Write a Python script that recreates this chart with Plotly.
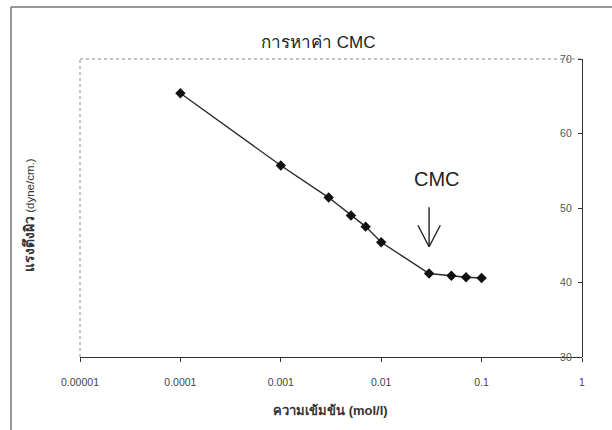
import numpy as np
import plotly.graph_objects as go

conc = [0.0001, 0.001, 0.003, 0.005, 0.007, 0.01, 0.03, 0.05, 0.07, 0.1]
tension = [65.4, 55.7, 51.4, 49.0, 47.5, 45.4, 41.2, 40.9, 40.7, 40.6]
xticks = [0.00001, 0.0001, 0.001, 0.01, 0.1, 1]
xticklabels = ["0.00001", "0.0001", "0.001", "0.01", "0.1", "1"]
yticks = [30, 40, 50, 60, 70]

L, R, T, B = 80, 30, 59, 73
W, H = 612, 430
pw, ph = W - L - R, H - T - B

def px(xp):
    return (xp - L) / pw

def py(yp):
    return (H - B - yp) / ph

fig = go.Figure()
fig.add_trace(go.Scatter(
    x=conc, y=tension, mode="lines+markers",
    line=dict(color="#2a2a2a", width=1.4),
    marker=dict(symbol="diamond", size=8, color="#111111"),
    showlegend=False, hoverinfo="skip",
))

font_main = "Liberation Sans, Arial, Noto Sans, DejaVu Sans, sans-serif"

fig.update_layout(
    width=W, height=H,
    margin=dict(l=L, r=R, t=T, b=B),
    paper_bgcolor="white", plot_bgcolor="white",
    font=dict(family=font_main, color="#333333"),
    xaxis=dict(
        type="log", range=[-5, 0],
        tickvals=xticks, ticktext=xticklabels,
        ticks="outside", ticklen=4, tickcolor="#333333",
        showline=True, linecolor="#333333", linewidth=1.2,
        showgrid=False, zeroline=False,
        tickfont=dict(size=10.5, color="#444444"),
        ticklabelstandoff=11,
    ),
    yaxis=dict(
        range=[30, 70], side="left", anchor="free", position=1,
        tickvals=yticks,
        ticks="outside", ticklen=4, tickcolor="#333333",
        showline=True, linecolor="#333333", linewidth=1.2,
        showgrid=False, zeroline=False,
        tickfont=dict(size=10.5, color="#555555"),
        ticklabelstandoff=4,
    ),
)

# plot area dotted frame (top and left edges)
fig.add_shape(type="line", xref="x domain", yref="y domain",
              x0=0, x1=1, y0=1, y1=1,
              line=dict(color="#888888", width=1, dash="dot"), layer="below")
fig.add_shape(type="line", xref="x domain", yref="y domain",
              x0=0, x1=0, y0=0, y1=1,
              line=dict(color="#888888", width=1, dash="dot"), layer="below")
# outer chart frame (top and left edges visible in scan)
fig.add_shape(type="line", xref="paper", yref="paper",
              x0=px(11), x1=px(612), y0=py(7), y1=py(7),
              line=dict(color="#777777", width=1.5))
fig.add_shape(type="line", xref="paper", yref="paper",
              x0=px(11), x1=px(11), y0=py(7), y1=py(430),
              line=dict(color="#777777", width=1.5))

# title
fig.add_annotation(text="การหาค่า CMC", xref="paper", yref="paper",
                   x=px(318), y=py(42), showarrow=False,
                   xanchor="center", yanchor="middle",
                   font=dict(size=17, color="#222222"))
# x title
fig.add_annotation(text="<b>ความเข้มข้น</b> <b>(mol/l)</b>", xref="paper", yref="paper",
                   x=px(330), y=py(410), showarrow=False,
                   xanchor="center", yanchor="middle",
                   font=dict(size=13, color="#333333"))
# y title
fig.add_annotation(text="<b><span style='font-size:14px'>แรงตึงผิว</span></b> (dyne/cm.)",
                   xref="paper", yref="paper",
                   x=px(29), y=py(215), showarrow=False, textangle=-90,
                   xanchor="center", yanchor="middle",
                   font=dict(size=11.5, color="#333333"))
# CMC label
fig.add_annotation(text="CMC", xref="x", yref="y",
                   x=np.log10(0.036), y=53.9, showarrow=False,
                   xanchor="center", yanchor="middle",
                   font=dict(size=20, color="#222222"))
# open arrow pointing down at the CMC point: shaft + two arms
arrow_x = float(np.log10(0.03))
arrow_y = 44.8
for dx, dy in [(0, -41), (-12, -23), (12, -23)]:
    fig.add_annotation(text="", xref="x", yref="y", x=arrow_x, y=arrow_y,
                       ax=dx, ay=dy, showarrow=True, arrowhead=0,
                       arrowwidth=1.4, arrowcolor="#222222",
                       standoff=0, startstandoff=0)

fig.write_html("out.html")
